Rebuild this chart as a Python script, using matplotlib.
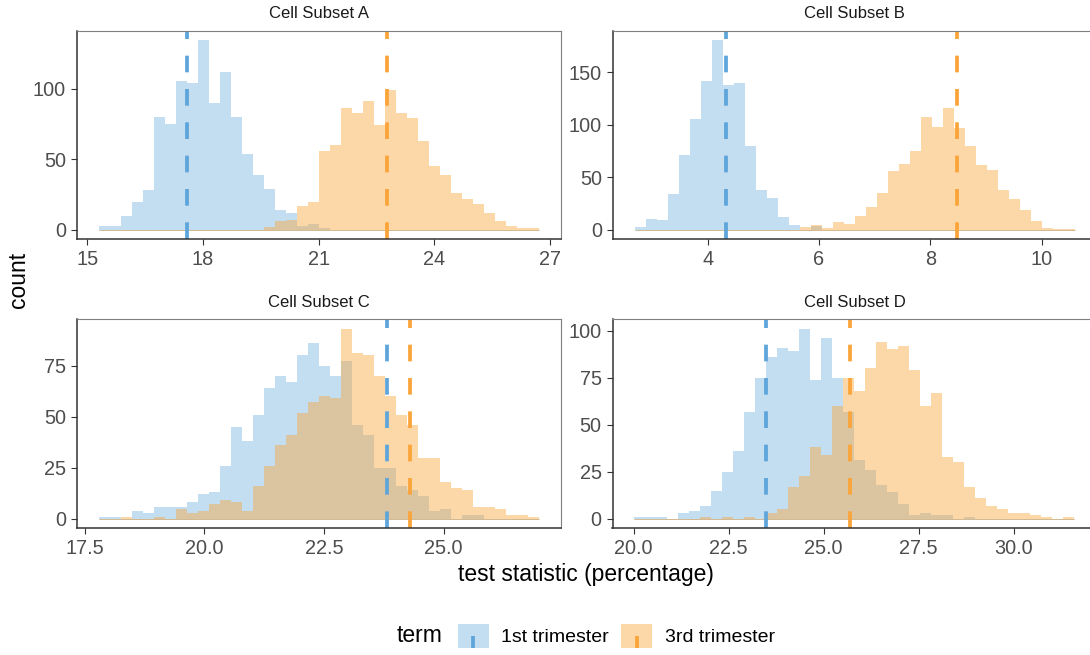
import numpy as np
import matplotlib
matplotlib.use("Agg")
import matplotlib.pyplot as plt
from matplotlib.patches import Rectangle
from matplotlib.lines import Line2D
from matplotlib.legend_handler import HandlerBase

plt.rcParams['font.family'] = ['Liberation Sans', 'DejaVu Sans']
plt.rcParams['lines.scale_dashes'] = False

# ---------------- data ----------------
terms = ["1st trimester", "3rd trimester"]
panel_titles = ["Cell Subset A", "Cell Subset B", "Cell Subset C", "Cell Subset D"]

# histogram bins (40 bins per panel): first edge and bin width
bin_start_A, bin_width_A = 15.30, 0.285
bin_start_B, bin_width_B = 2.687, 0.1976
bin_start_C, bin_width_C = 17.79, 0.2298
bin_start_D, bin_width_D = 20.02, 0.2895

counts_A_first = [3, 3, 10, 20, 28, 80, 75, 105, 104, 134, 90, 112, 80, 54, 39, 29, 14, 12, 3, 4,
                  1, 0, 0, 0, 0, 0, 0, 0, 0, 0, 0, 0, 0, 0, 0, 0, 0, 0, 0, 0]
counts_A_third = [0, 0, 0, 0, 0, 0, 0, 0, 0, 0, 0, 0, 0, 0, 0, 2, 6, 7, 17, 20,
                  56, 60, 86, 83, 91, 74, 99, 83, 79, 63, 45, 39, 26, 22, 18, 12, 6, 3, 1, 1]

counts_B_first = [3, 10, 9, 34, 71, 105, 141, 180, 138, 140, 80, 38, 30, 12, 5, 0, 4, 0, 0, 0,
                  0, 0, 0, 0, 0, 0, 0, 0, 0, 0, 0, 0, 0, 0, 0, 0, 0, 0, 0, 0]
counts_B_third = [0, 0, 0, 0, 0, 0, 0, 0, 0, 0, 0, 0, 0, 0, 0, 3, 5, 2, 7, 6,
                  13, 22, 35, 56, 63, 75, 107, 98, 116, 97, 80, 62, 57, 38, 29, 19, 8, 2, 1, 1]

counts_C_first = [1, 1, 0, 4, 3, 6, 6, 6, 8, 12, 13, 26, 45, 38, 51, 64, 70, 67, 80, 86,
                  75, 70, 77, 46, 41, 25, 25, 16, 14, 11, 4, 5, 0, 2, 2, 0, 0, 0, 0, 0]
counts_C_third = [0, 0, 1, 0, 0, 1, 0, 5, 3, 4, 7, 9, 8, 4, 16, 26, 36, 41, 52, 57,
                  60, 59, 93, 81, 80, 70, 60, 51, 46, 30, 30, 18, 15, 14, 6, 6, 5, 2, 2, 1]

counts_D_first = [1, 1, 1, 0, 3, 4, 7, 15, 25, 36, 57, 75, 86, 91, 89, 101, 74, 96, 75, 57,
                  31, 26, 18, 14, 8, 2, 3, 2, 2, 0, 1, 0, 0, 0, 0, 0, 0, 0, 0, 0]
counts_D_third = [0, 0, 0, 0, 0, 0, 1, 0, 1, 0, 1, 0, 3, 5, 17, 23, 38, 34, 60, 75,
                  68, 80, 94, 90, 92, 79, 60, 67, 33, 30, 17, 11, 7, 5, 3, 3, 2, 1, 0, 1]

# observed statistics (dashed lines)
obs_A = [17.60, 22.76]
obs_B = [4.336, 8.48]
obs_C = [23.81, 24.29]
obs_D = [23.47, 25.70]

xticks_A = [15, 18, 21, 24, 27]
xticks_B = [4, 6, 8, 10]
xticks_C = [17.5, 20.0, 22.5, 25.0]
xticks_D = [20.0, 22.5, 25.0, 27.5, 30.0]
yticks_A = [0, 50, 100]
yticks_B = [0, 50, 100, 150]
yticks_C = [0, 25, 50, 75]
yticks_D = [0, 25, 50, 75, 100]
xfmt = ["{:.0f}", "{:.0f}", "{:.1f}", "{:.1f}"]

# ---------------- style ----------------
line_colors = ["#5DA5DA", "#FAA43A"]
fill_alpha = [0.37, 0.44]
W, H = 1090, 655
fig = plt.figure(figsize=(W / 100, H / 100), dpi=100)

# panel boxes in pixels: left, top, width, height
boxes = [(76.7, 31.0, 483.8, 208.3), (612.7, 31.0, 483.8, 208.3),
         (76.7, 319.3, 483.8, 209.0), (612.5, 319.3, 483.8, 209.0)]

panels = [
    (bin_start_A, bin_width_A, counts_A_first, counts_A_third, obs_A, xticks_A, yticks_A),
    (bin_start_B, bin_width_B, counts_B_first, counts_B_third, obs_B, xticks_B, yticks_B),
    (bin_start_C, bin_width_C, counts_C_first, counts_C_third, obs_C, xticks_C, yticks_C),
    (bin_start_D, bin_width_D, counts_D_first, counts_D_third, obs_D, xticks_D, yticks_D),
]

def fill_color(c, a):
    return matplotlib.colors.to_rgba(c, a)

for i, (start, width, c1, c3, obs, xt, yt) in enumerate(panels):
    l, t, w, h = boxes[i]
    ax = fig.add_axes([l / W, 1 - (t + h) / H, w / W, h / H])
    nb = len(c1)
    edges = start + width * np.arange(nb + 1)
    for k, counts in enumerate([c1, c3]):
        ax.bar(edges[:-1], counts, width=width, align='edge',
               color=fill_color(line_colors[k], fill_alpha[k]), linewidth=0)
        ax.hlines(0, edges[0], edges[-1], color=fill_color(line_colors[k], 0.6), lw=0.6)
    for k, xv in enumerate(obs):
        ax.axvline(xv, color=line_colors[k], lw=2.7, dashes=(12, 12))
    span = edges[-1] - edges[0]
    ax.set_xlim(edges[0] - 0.05 * span, edges[-1] + 0.05 * span)
    ymax = max(max(c1), max(c3))
    ax.set_ylim(-0.05 * ymax, 1.05 * ymax)
    ax.set_xticks(xt)
    ax.set_xticklabels([xfmt[i].format(v) for v in xt])
    ax.set_yticks(yt)
    ax.tick_params(length=4.3, width=0.8, color='#333333', labelcolor='#4d4d4d',
                   labelsize=14.3, pad=3.5)
    for s in ['left', 'bottom']:
        ax.spines[s].set_color('#333333')
        ax.spines[s].set_linewidth(1.1)
    for s in ['top', 'right']:
        ax.spines[s].set_color('#7f7f7f')
        ax.spines[s].set_linewidth(0.8)
    fig.text((l + w / 2) / W, 1 - (t - 12.5) / H,
             panel_titles[i], ha='center', va='baseline', fontsize=12, color='#1a1a1a')

fig.text(19 / W, 1 - 280 / H, "count", rotation=90, ha='center', va='center',
         fontsize=16.5, color='black')
fig.text(586 / W, 1 - 575 / H, "test statistic (percentage)", ha='center', va='center',
         fontsize=16.5, color='black')

# ---------------- legend ----------------
class KeyHandler(HandlerBase):
    def __init__(self, fill, line):
        super().__init__()
        self.fill = fill
        self.line = line

    def create_artists(self, legend, orig_handle, xdescent, ydescent, width, height,
                       fontsize, trans):
        x0, y0 = -xdescent, -ydescent
        rect = Rectangle((x0, y0), width, height, facecolor=self.fill, edgecolor='none',
                         transform=trans)
        cx = x0 + width / 2
        ln = Line2D([cx, cx], [y0, y0 + 0.52 * height], color=self.line, lw=2.7,
                    solid_capstyle='butt', transform=trans)
        return [rect, ln]

h1 = Rectangle((0, 0), 1, 1)
h2 = Rectangle((0, 0), 1, 1)
leg = fig.legend([h1, h2], terms, loc='center left', ncol=2,
                 bbox_to_anchor=(457.7 / W, 1 - 636 / H), frameon=False,
                 borderpad=0, borderaxespad=0, fontsize=14,
                 handlelength=1.6, handleheight=1.6, handletextpad=0.65,
                 columnspacing=0.62,
                 handler_map={h1: KeyHandler(fill_color(line_colors[0], fill_alpha[0]), line_colors[0]),
                              h2: KeyHandler(fill_color(line_colors[1], fill_alpha[1]), line_colors[1])})
fig.text(397 / W, 1 - 636 / H, "term", ha='left', va='center', fontsize=16.5, color='black')

fig.savefig("out.png", dpi=100)
